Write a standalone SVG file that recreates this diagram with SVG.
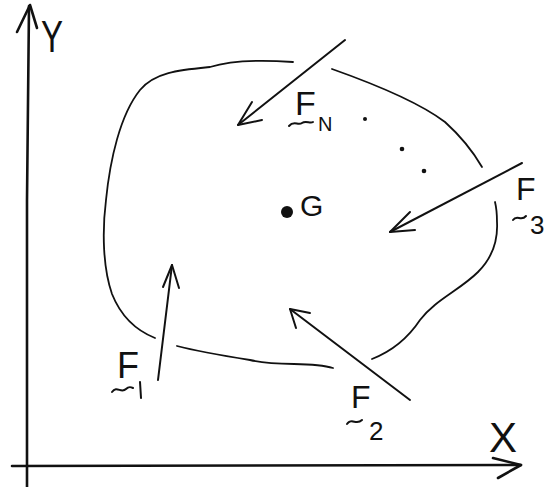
<svg xmlns="http://www.w3.org/2000/svg" width="558" height="487" viewBox="0 0 558 487">
<style>
.ln{fill:none;stroke:#111;stroke-width:2;stroke-linecap:round;stroke-linejoin:round}
.ax{fill:none;stroke:#111;stroke-width:2.6;stroke-linecap:round;stroke-linejoin:round}
.bl{fill:none;stroke:#111;stroke-width:1.8;stroke-linecap:round}
.t{font-family:"Liberation Sans",Arial,sans-serif;fill:#111}
.td{fill:none;stroke:#111;stroke-width:2;stroke-linecap:round}
</style>
<rect width="558" height="487" fill="#fff"/>
<g id="axes">
<path class="ax" d="M27,487 L27,200 L29,6"/>
<path class="ax" d="M17,32 L30,5 L37,28"/>
<path class="ax" d="M12,466 L521,465"/>
<path class="ax" d="M493,458 L521,465 L498,478"/>
<text class="t" x="41" y="52" font-size="44" transform="translate(41 52) scale(0.75 1) translate(-41 -52)">Y</text>
<text class="t" x="489" y="452" font-size="42">X</text>
</g>
<g id="body">
<path class="bl" d="M293,62 C265,60 232,60 210,67 C180,70 155,72 140,90 C120,115 110,160 106,200 C102,232 103,268 112,294 C120,314 135,330 155,338"/>
<path class="bl" d="M177,346 C200,352 225,356 250,360 C280,367 310,361 333,368"/>
<path class="bl" d="M372,359 C395,350 410,335 420,320 C435,300 460,290 478,272 C492,258 498,240 497,222 C497,212 496,206 495,202"/>
<path class="bl" d="M482,167 C475,155 465,140 445,122 C420,103 380,86 332,69"/>
</g>
<g id="G">
<circle cx="287" cy="212" r="6" fill="#111"/>
<text class="t" x="300" y="216" font-size="30">G</text>
</g>
<g id="dots">
<circle cx="365" cy="119" r="2" fill="#111"/>
<circle cx="402" cy="149" r="2.3" fill="#111"/>
<circle cx="424" cy="171" r="2.3" fill="#111"/>
</g>
<g id="connectors">
<path class="ln" d="M345,40 L238,125"/>
<path class="ln" d="M252,102 L238,125 L262,120"/>
<path class="ln" d="M522,163 L390,232"/>
<path class="ln" d="M410,212 L390,232 L415,230"/>
<path class="ln" d="M158,380 L172,265"/>
<path class="ln" d="M163,287 L172,265 L179,288"/>
<path class="ln" d="M410,400 L290,309"/>
<path class="ln" d="M310,313 L290,309 L296,328"/>
</g>
<g id="FN">
<text class="t" x="295" y="115" font-size="34">F</text>
<text class="t" x="318" y="131" font-size="20">N</text>
<path class="td" d="M289,126 C294,120 298,126 302,123 C306,120 310,124 313,122"/>
</g>
<g id="F3">
<text class="t" x="516" y="200" font-size="32">F</text>
<text class="t" x="530" y="234" font-size="26">3</text>
<path class="td" d="M513,220 C517,214 521,222 526,216"/>
</g>
<g id="F1">
<text class="t" x="117" y="378" font-size="36">F</text>
<path class="ln" d="M140,382 L141,398"/>
<path class="td" d="M112,392 C117,385 121,394 126,389 C129,386 131,387 133,388"/>
</g>
<g id="F2">
<text class="t" x="351" y="408" font-size="32">F</text>
<text class="t" x="369" y="440" font-size="26">2</text>
<path class="td" d="M347,424 C352,417 356,426 362,420"/>
</g>
</svg>
